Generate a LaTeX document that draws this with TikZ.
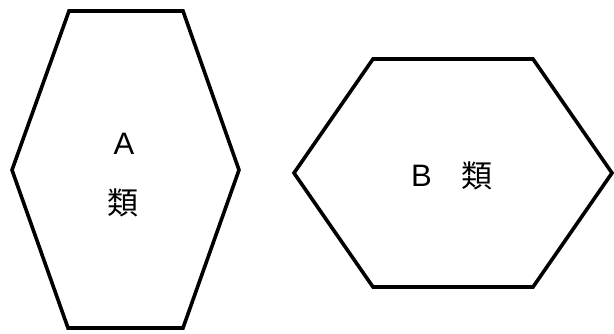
\documentclass[tikz,border=0pt]{standalone}
\usepackage{fontspec}
\setmainfont{Liberation Sans}
\newfontfamily\cjk{Noto Sans CJK JP}
\usetikzlibrary{positioning}

\begin{document}
\begin{tikzpicture}[
    x=1pt, y=-1pt,
    hexline/.style={draw=black, line width=3.6pt, line join=miter},
    classtext/.style={font=\fontsize{31}{33}\selectfont, inner sep=0pt, anchor=center}
]
\useasboundingbox (0,0) rectangle (614,334);

% left hexagon (A)
\draw[hexline] (69,11) -- (183,11) -- (239,170) -- (183,328) -- (68,328) -- (12,170) -- cycle;
\node[classtext] (a) at (124,144) {A};
\node[classtext] (aclass) at (123,203) {\cjk 類};

% right hexagon (B)
\draw[hexline] (373,59) -- (533,59) -- (612,173) -- (533,287) -- (373,287) -- (294,173) -- cycle;
\node[classtext] (b) at (421.5,175.5) {B};
\node[classtext] (bclass) at (476.5,176) {\cjk 類};

\end{tikzpicture}
\end{document}
